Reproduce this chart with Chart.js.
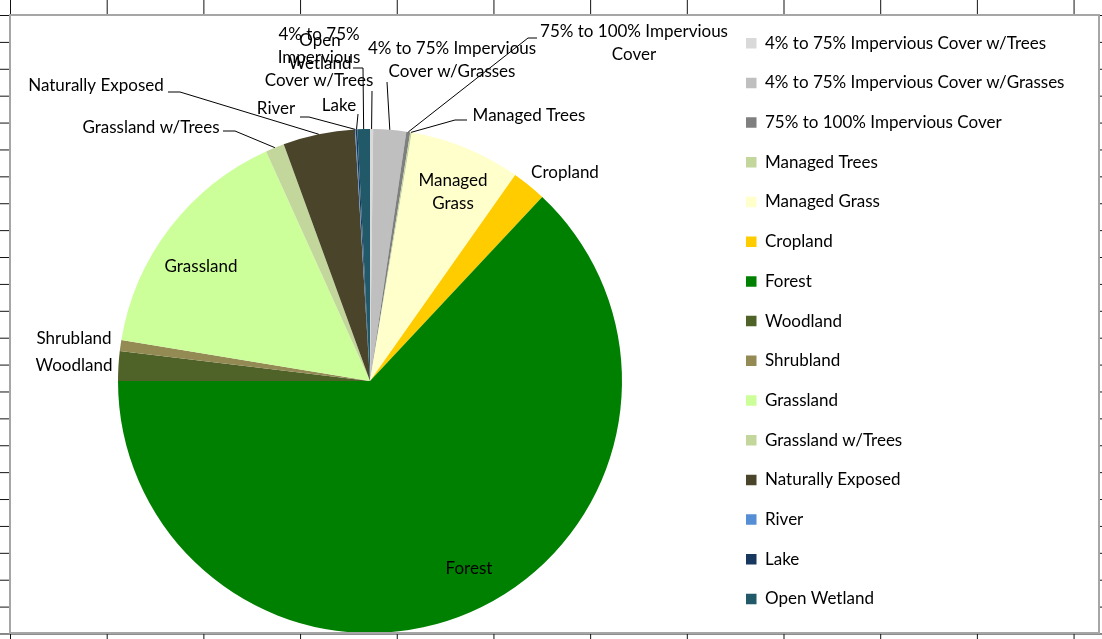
<!DOCTYPE html>
<html>
<head>
<meta charset="utf-8">
<script src="https://cdn.jsdelivr.net/npm/chart.js@4/dist/chart.umd.min.js"></script>
<style>
  html, body { margin: 0; padding: 0; }
  body {
    width: 1102px; height: 639px; overflow: hidden; position: relative;
    background-color: #fff;
    background-image:
      linear-gradient(to right, #111 1px, transparent 1px),
      linear-gradient(to bottom, #111 1px, transparent 1px);
    background-size: 96.7px 100%, 100% 26.9px;
    background-position: 10px 0, 0 15px;
  }
  #box {
    position: absolute; left: 9px; top: 14px;
    width: 1087px; height: 616px;
    border: 2px solid #a6a6a6; background: #fff; overflow: hidden;
  }
  #chart { position: absolute; left: -1px; top: -4px; }
</style>
</head>
<body>
<div id="box"><canvas id="chart" width="1088" height="738"></canvas></div>
<script>
// land cover categories, clockwise from 12 o'clock
var categories = [
  "4% to 75% Impervious Cover w/Trees",
  "4% to 75% Impervious Cover w/Grasses",
  "75% to 100% Impervious Cover",
  "Managed Trees",
  "Managed Grass",
  "Cropland",
  "Forest",
  "Woodland",
  "Shrubland",
  "Grassland",
  "Grassland w/Trees",
  "Naturally Exposed",
  "River",
  "Lake",
  "Open Wetland"
];

// share of area, percent
var shares = [0.2, 2.1, 0.25, 0.1, 7.1, 2.2, 62.9, 1.9, 0.7, 15.6, 1.2, 4.6, 0.05, 0.1, 0.8];

var sliceColors = [
  "#d9d9d9", "#bfbfbf", "#7f7f7f", "#c3d69b", "#ffffcc",
  "#ffcc00", "#008000", "#4f6228", "#948a54", "#ccff99",
  "#c3d69b", "#4a452a", "#558ed5", "#17375e", "#215968"
];

// where Excel put the data labels (page pixels), leader = bend points before the slice
var OX = 10, OY = 12;
var labelSpots = [
  { name: "4% to 75% Impervious Cover w/Trees", lines: ["4% to 75%", "Impervious", "Cover w/Trees"], x: 319, y: 35, leader: [[372, 91]] },
  { name: "Open Wetland", lines: ["Open", "Wetland"], x: 320, y: 41, leader: [[353, 68], [363, 68]] },
  { name: "Lake", lines: ["Lake"], x: 339, y: 106, leader: [[358, 114]] },
  { name: "River", lines: ["River"], x: 276, y: 109, leader: [[300, 117], [309, 117]] },
  { name: "Naturally Exposed", lines: ["Naturally Exposed"], x: 96, y: 86, leader: [[168, 92], [180, 92]] },
  { name: "Grassland w/Trees", lines: ["Grassland w/Trees"], x: 151, y: 128, leader: [[223, 131], [235, 131]] },
  { name: "Grassland", lines: ["Grassland"], x: 201, y: 267 },
  { name: "Shrubland", lines: ["Shrubland"], x: 74, y: 339 },
  { name: "Woodland", lines: ["Woodland"], x: 74, y: 366 },
  { name: "Forest", lines: ["Forest"], x: 469, y: 569 },
  { name: "Cropland", lines: ["Cropland"], x: 565, y: 173 },
  { name: "Managed Grass", lines: ["Managed", "Grass"], x: 453, y: 181 },
  { name: "Managed Trees", lines: ["Managed Trees"], x: 529, y: 116, leader: [[467, 120], [455, 120]] },
  { name: "75% to 100% Impervious Cover", lines: ["75% to 100% Impervious", "Cover"], x: 634, y: 32, leader: [[537, 38], [528, 38]] },
  { name: "4% to 75% Impervious Cover w/Grasses", lines: ["4% to 75% Impervious", "Cover w/Grasses"], x: 452, y: 49, leader: [[387, 82]] }
];

Chart.defaults.font.family = "Lato, 'Open Sans', sans-serif";
Chart.defaults.font.size = 17;
Chart.defaults.color = "#000";

// draws the labels and leader lines, leader ends on the slice's outer edge
var dataLabels = {
  id: "dataLabels",
  afterDraw: function(chart) {
    var ctx = chart.ctx;
    var meta = chart.getDatasetMeta(0);
    ctx.save();
    ctx.font = "17px Lato, 'Open Sans', sans-serif";
    ctx.fillStyle = "#000";
    ctx.strokeStyle = "#000";
    ctx.lineWidth = 1;
    ctx.textAlign = "center";
    ctx.textBaseline = "middle";
    labelSpots.forEach(function(spot) {
      var i = categories.indexOf(spot.name);
      var arc = meta.data[i];
      if (spot.leader) {
        var mid = (arc.startAngle + arc.endAngle) / 2;
        var ex = arc.x + arc.outerRadius * Math.cos(mid);
        var ey = arc.y + arc.outerRadius * Math.sin(mid);
        ctx.beginPath();
        ctx.moveTo(spot.leader[0][0] - OX, spot.leader[0][1] - OY);
        for (var k = 1; k < spot.leader.length; k++) {
          ctx.lineTo(spot.leader[k][0] - OX, spot.leader[k][1] - OY);
        }
        ctx.lineTo(ex, ey);
        ctx.stroke();
      }
      spot.lines.forEach(function(t, j) {
        ctx.fillText(t, spot.x - OX, spot.y - OY + j * 23);
      });
    });
    ctx.restore();
  }
};

var chart = new Chart(document.getElementById("chart"), {
  type: "pie",
  data: {
    labels: categories,
    datasets: [{
      data: shares,
      backgroundColor: sliceColors,
      borderWidth: 0,
      radius: 252
    }]
  },
  options: {
    responsive: false,
    animation: false,
    layout: { padding: { left: 6.7, right: 0, top: 0, bottom: 0 } },
    plugins: {
      legend: {
        position: "right",
        align: "start",
        labels: {
          boxWidth: 10.5,
          boxHeight: 10.5,
          padding: 22.7,
          color: "#000",
          font: { size: 17 }
        }
      },
      tooltip: { enabled: false }
    }
  },
  plugins: [dataLabels]
});

// shift the legend so its left edge sits at 713.3 canvas px (keeps the pie centred at x=360)
var diff = chart.legend.left - 713.3;
chart.options.layout.padding.right += diff;
chart.update();
</script>
</body>
</html>
